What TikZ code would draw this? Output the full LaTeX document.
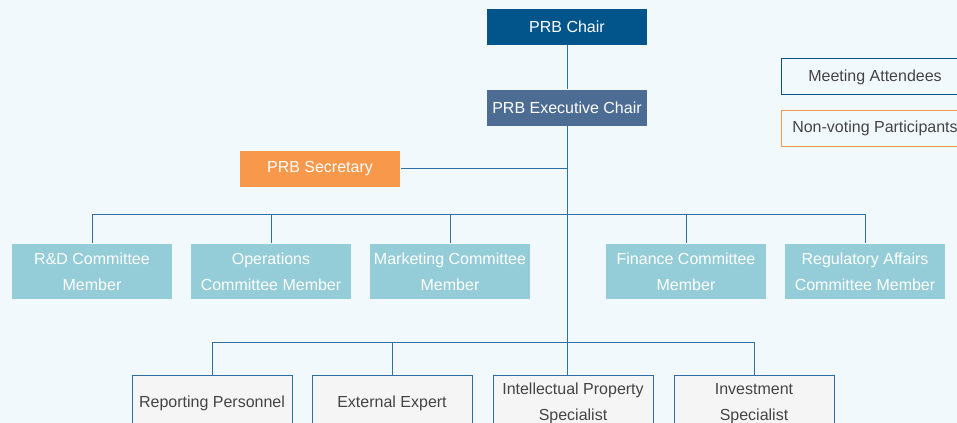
\documentclass[tikz,border=0pt]{standalone}
\usepackage{fontspec}
\setmainfont{Liberation Sans}
\definecolor{bgcol}{HTML}{F2F9FC}
\definecolor{chaircol}{HTML}{02558A}
\definecolor{execcol}{HTML}{4D6C94}
\definecolor{seccol}{HTML}{F7984B}
\definecolor{memcol}{HTML}{94CCD8}
\definecolor{linecol}{HTML}{2F6FA3}
\definecolor{txtcol}{HTML}{444444}
\tikzset{
  topbox/.style={minimum width=120pt,minimum height=27pt,inner sep=0pt,text=white},
  membox/.style={fill=memcol,minimum width=120pt,minimum height=41.25pt,inner sep=0pt,align=center,text=white},
  specbox/.style={fill=black!4,draw=linecol,minimum width=120pt,minimum height=41.25pt,inner sep=0pt,align=center,text=txtcol},
  legbox/.style={fill=bgcol,minimum width=141pt,minimum height=27pt,inner sep=0pt,text=txtcol},
}
\begin{document}
\begin{tikzpicture}[x=0.75pt,y=-0.75pt,line width=0.75pt,font=\fontsize{12}{19.5}\selectfont]
    \fill[bgcol] (0,0) rectangle (957,423);
    \useasboundingbox (0,0) rectangle (957,423);
    \clip (0,0) rectangle (957,423);
    % top of the board
    \node[topbox,fill=chaircol] (chair) at (567,27) {PRB Chair};
    \node[topbox,fill=execcol] (exec) at (567,108) {PRB Executive Chair};
    \node[topbox,fill=seccol] (sec) at (320,169) {PRB Secretary};
    % legend
    \node[legbox,draw=chaircol] (attend) at (875,77) {Meeting Attendees};
    \node[legbox,draw=seccol] (nonvote) at (875,128.5) {Non-voting Participants};
    % committee members
    \node[membox] (rd) at (92,271.5) {R\&D Committee\\Member};
    \node[membox] (ops) at (271,271.5) {Operations\\Committee Member};
    \node[membox] (mkt) at (450,271.5) {Marketing Committee\\Member};
    \node[membox] (fin) at (686,271.5) {Finance Committee\\Member};
    \node[membox] (reg) at (865,271.5) {Regulatory Affairs\\Committee Member};
    % non-voting specialists
    \node[specbox] (rep) at (212,403.5) {Reporting Personnel};
    \node[specbox] (ext) at (392,403.5) {External Expert};
    \node[specbox] (ip) at (573,403.5) {Intellectual Property\\Specialist};
    \node[specbox] (inv) at (754,403.5) {Investment\\Specialist};
    \coordinate (cbus) at (0,215);
    \coordinate (sbus) at (0,343);
    \begin{scope}[draw=linecol]
        \draw (chair.south)--(exec.north);
        \draw (exec.south)--(exec.south |- ip.north);
        \draw (sec.east)--(exec.south |- sec.east);
        \draw (rd.north) |- (cbus -| reg.north)--(reg.north);
        \foreach \n in {ops,mkt,fin}
            \draw (\n.north)--(\n.north |- cbus);
        \draw (rep.north) |- (sbus -| inv.north)--(inv.north);
        \draw (ext.north)--(ext.north |- sbus);
    \end{scope}
\end{tikzpicture}
\end{document}
